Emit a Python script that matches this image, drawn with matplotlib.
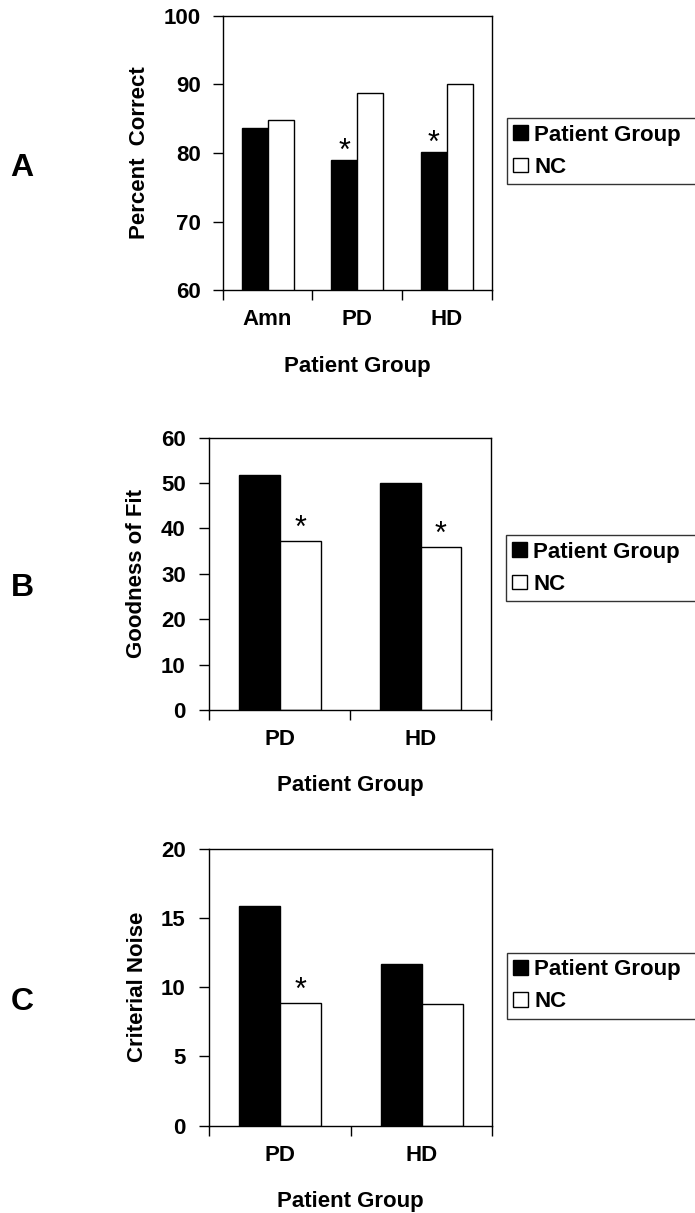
import matplotlib
matplotlib.use("Agg")
import numpy as np
import matplotlib.pyplot as plt
from matplotlib.patches import Patch

plt.rcParams['font.family'] = ['Liberation Sans', 'DejaVu Sans']
plt.rcParams['font.weight'] = 'bold'

# panel A: percent correct
groups_a = ["Amn", "PD", "HD"]
patient_a = [83.7, 79.0, 80.1]
nc_a = [84.8, 88.7, 90.1]
star_a = [False, True, True]   # star above patient bar

# panel B: goodness of fit
groups_b = ["PD", "HD"]
patient_b = [51.8, 49.9]
nc_b = [37.2, 35.9]
star_b = [True, True]          # star above NC bar

# panel C: criterial noise
groups_c = ["PD", "HD"]
patient_c = [15.85, 11.7]
nc_c = [8.9, 8.8]
star_c = [True, False]

W, H = 695, 1213
FS = 16
fig = plt.figure(figsize=(W / 100, H / 100), dpi=100)


def px_axes(left, right, top, bottom):
    return fig.add_axes([left / W, 1 - bottom / H, (right - left) / W, (bottom - top) / H])


def panel(ax, groups, pat, nc, ylim, step, ylabel, ylab_x, ypad, stars, star_on_nc, star_off):
    x = np.arange(len(groups)) + 0.5
    w = 0.29
    ax.bar(x - w / 2, pat, w, bottom=0, color="black", edgecolor="black", linewidth=1)
    ax.bar(x + w / 2, nc, w, color="white", edgecolor="black", linewidth=1)
    ax.set_xlim(0, len(groups))
    ax.set_ylim(*ylim)
    ax.set_yticks(np.arange(ylim[0], ylim[1] + 0.1, step))
    ax.set_xticks(x)
    ax.set_xticklabels(groups)
    ax.set_xticks(np.arange(len(groups) + 1), minor=True)
    ax.tick_params(axis="x", which="major", length=0, pad=14, labelsize=FS)
    ax.tick_params(axis="x", which="minor", length=7, width=1, direction="out")
    ax.tick_params(axis="y", length=7, width=1, direction="out", pad=ypad, labelsize=FS)
    for lab in ax.get_xticklabels() + ax.get_yticklabels():
        lab.set_fontweight("bold")
    for s in ax.spines.values():
        s.set_linewidth(1)
    ax.set_ylabel(ylabel, fontsize=FS, fontweight="bold", va="center")
    ax.yaxis.set_label_coords(ylab_x, 0.5)
    for i, st in enumerate(stars):
        if not st:
            continue
        if star_on_nc:
            xs, ys = x[i] + w / 2, nc[i]
        else:
            xs, ys = x[i] - w / 2, pat[i]
        ax.annotate("*", (xs, ys), xytext=(0, star_off), textcoords="offset pixels",
                    ha="center", va="center", fontsize=22, fontweight="normal")


def xlabel_at(ax, bottom_px, height_px, center_px):
    ax.set_xlabel("Patient Group", fontsize=FS, fontweight="bold", va="center")
    ax.xaxis.set_label_coords(0.5, -(center_px - bottom_px) / height_px)


def legend_at(left, top, bottom):
    handles = [Patch(facecolor="black", edgecolor="black", linewidth=1, label="Patient Group"),
               Patch(facecolor="white", edgecolor="black", linewidth=1, label="NC")]
    h = (bottom - top) / H
    leg = fig.legend(handles=handles, loc="upper left",
                     bbox_to_anchor=(left / W, 1 - bottom / H, 0.35, h), mode="expand",
                     fontsize=FS, frameon=True, fancybox=False, edgecolor="black",
                     handlelength=0.65, handleheight=0.65, handletextpad=0.3,
                     labelspacing=0.5, borderpad=0.3, borderaxespad=0)
    leg.get_frame().set_linewidth(1)
    for t in leg.get_texts():
        t.set_fontweight("bold")


axA = px_axes(222.7, 491.7, 16, 290)
panel(axA, groups_a, patient_a, nc_a, (60, 100), 10, "Percent  Correct", -0.311, 8.5,
      star_a, False, 8)
xlabel_at(axA, 290, 274, 366.7)
legend_at(506.7, 118, 188)

axB = px_axes(209.3, 491, 437.5, 710)
panel(axB, groups_b, patient_b, nc_b, (0, 60), 10, "Goodness of Fit", -0.258, 10,
      star_b, True, 12)
xlabel_at(axB, 710, 272.5, 785)
legend_at(505.7, 535, 608)

axC = px_axes(209.3, 492.3, 849, 1125.6)
panel(axC, groups_c, patient_c, nc_c, (0, 20), 5, "Criterial Noise", -0.255, 10,
      star_c, True, 12)
xlabel_at(axC, 1125.6, 276.6, 1201.7)
legend_at(506.7, 952.7, 1024)

for letter, yc in [("A", 167.5), ("B", 587.5), ("C", 1002)]:
    fig.text(22 / W, 1 - yc / H, letter, ha="center", va="center", fontsize=23, fontweight="bold")

fig.savefig("out.png", dpi=100)
